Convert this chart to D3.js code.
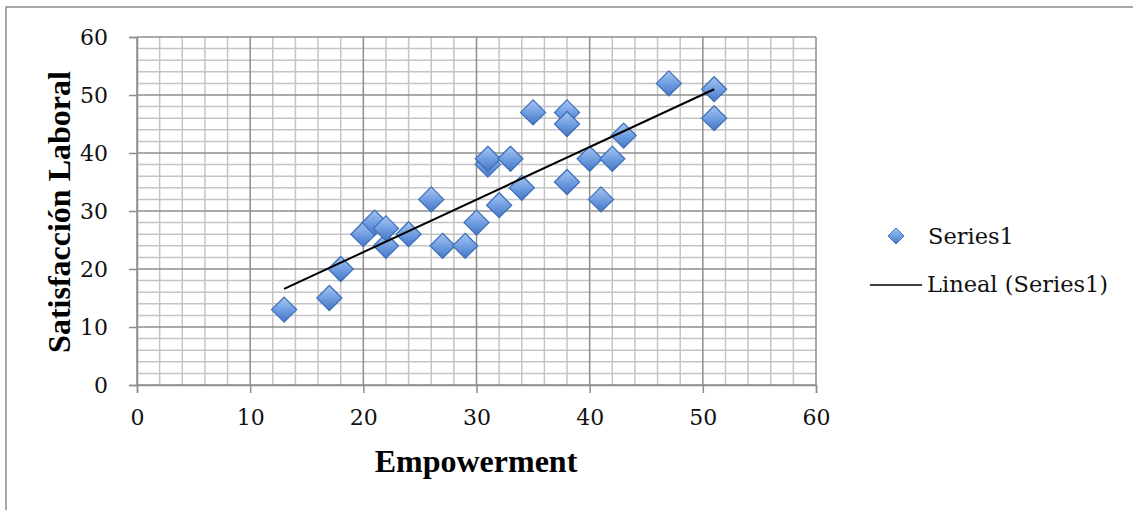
<!DOCTYPE html>
<html><head><meta charset="utf-8">
<script src="https://cdn.jsdelivr.net/npm/d3@7"></script>
<style>html,body{margin:0;padding:0;background:#fff;}svg{display:block;}</style>
</head><body>
<svg id="chart" width="1133" height="510"></svg>
<script>
const empowerment = [13,17,18,20,21,22,22,24,26,27,29,30,31,31,32,33,34,35,38,38,38,40,41,42,43,47,51,51];
const satisfaccion = [13,15,20,26,28,24,27,26,32,24,24,28,38,39,31,39,34,47,47,45,35,39,32,39,43,52,51,46];
const xTicks = [0,10,20,30,40,50,60];
const yTicks = [0,10,20,30,40,50,60];
const xTitle = "Empowerment";
const yTitle = "Satisfacción Laboral";
const legendLabels = ["Series1", "Lineal (Series1)"];

const svg = d3.select("#chart");
const x = d3.scaleLinear().domain([0,60]).range([137,816]);
const y = d3.scaleLinear().domain([0,60]).range([385,37]);

const defs = svg.append("defs");
const grad = defs.append("linearGradient").attr("id","dg").attr("x1",0).attr("y1",0).attr("x2",0).attr("y2",1);
grad.append("stop").attr("offset","0%").attr("stop-color","#a8c6f2");
grad.append("stop").attr("offset","55%").attr("stop-color","#6d9be0");
grad.append("stop").attr("offset","100%").attr("stop-color","#4676c4");

// outer frame (top and left visible)
svg.append("rect").attr("x",6).attr("y",7).attr("width",1200).attr("height",600)
  .attr("fill","none").attr("stroke","#8a8a8a").attr("stroke-width",1.5);

// minor grid
const minor = d3.range(0,61,2).filter(v => v % 10 !== 0);
const g = svg.append("g");
g.selectAll(".vx").data(minor).join("line")
  .attr("x1",d=>x(d)).attr("x2",d=>x(d)).attr("y1",y(0)).attr("y2",y(60))
  .attr("stroke","#c4c4c4").attr("stroke-width",1.5);
g.selectAll(".hy").data(minor).join("line")
  .attr("y1",d=>y(d)).attr("y2",d=>y(d)).attr("x1",x(0)).attr("x2",x(60))
  .attr("stroke","#c4c4c4").attr("stroke-width",1.5);
// major grid
g.selectAll(".mx").data(xTicks).join("line")
  .attr("x1",d=>x(d)).attr("x2",d=>x(d)).attr("y1",y(0)).attr("y2",y(60))
  .attr("stroke","#8e8e8e").attr("stroke-width",1.5);
g.selectAll(".my").data(yTicks).join("line")
  .attr("y1",d=>y(d)).attr("y2",d=>y(d)).attr("x1",x(0)).attr("x2",x(60))
  .attr("stroke","#8e8e8e").attr("stroke-width",1.5);

// axes
const xAxis = svg.append("g").attr("transform",`translate(0,${y(0)})`)
  .call(d3.axisBottom(x).tickValues(xTicks).tickSize(8).tickPadding(13));
const yAxis = svg.append("g").attr("transform",`translate(${x(0)},0)`)
  .call(d3.axisLeft(y).tickValues(yTicks).tickSize(8).tickPadding(21));
[xAxis,yAxis].forEach(a=>{
  a.select(".domain").attr("stroke","#8e8e8e").attr("stroke-width",1.5);
  a.selectAll(".tick line").attr("stroke","#8e8e8e").attr("stroke-width",1.5);
  a.selectAll("text").attr("font-family","'DejaVu Serif', serif").attr("font-size",22).attr("fill","#111");
});
xAxis.selectAll("text").attr("dy","0.85em");

// trendline (least squares)
const n = empowerment.length;
const mx = d3.mean(empowerment), my = d3.mean(satisfaccion);
let sxy=0, sxx=0;
for(let i=0;i<n;i++){ sxy+=(empowerment[i]-mx)*(satisfaccion[i]-my); sxx+=(empowerment[i]-mx)**2; }
const slope = sxy/sxx, icpt = my - slope*mx;
const [xmin,xmax] = d3.extent(empowerment);

function diamondPath(r){ return `M0,${-r}L${r},0L0,${r}L${-r},0Z`; }
svg.append("g").selectAll("path").data(empowerment.map((v,i)=>[v,satisfaccion[i]])).join("path")
  .attr("d",diamondPath(12.5))
  .attr("transform",d=>`translate(${x(d[0])},${y(d[1])})`)
  .attr("fill","url(#dg)").attr("stroke","#3f70ba").attr("stroke-width",1.3);

svg.append("line").attr("x1",x(xmin)).attr("y1",y(slope*xmin+icpt))
  .attr("x2",x(xmax)).attr("y2",y(slope*xmax+icpt))
  .attr("stroke","#000").attr("stroke-width",2);

// axis titles
svg.append("text").attr("x",476).attr("y",472).attr("text-anchor","middle")
  .attr("font-family","'Liberation Serif', serif").attr("font-weight","bold").attr("font-size",32)
  .text(xTitle);
svg.append("text").attr("transform","translate(70,212) rotate(-90)").attr("text-anchor","middle")
  .attr("font-family","'Liberation Serif', serif").attr("font-weight","bold").attr("font-size",32)
  .text(yTitle);

// legend
const lg = svg.append("g");
lg.append("path").attr("d",diamondPath(8)).attr("transform","translate(896,236)")
  .attr("fill","url(#dg)").attr("stroke","#3f70ba").attr("stroke-width",1);
lg.append("text").attr("x",928).attr("y",244).text(legendLabels[0])
  .attr("font-family","'DejaVu Serif', serif").attr("font-size",22.5).attr("fill","#111");
lg.append("line").attr("x1",870).attr("x2",922).attr("y1",285).attr("y2",285)
  .attr("stroke","#000").attr("stroke-width",1.5);
lg.append("text").attr("x",927).attr("y",292).text(legendLabels[1])
  .attr("font-family","'DejaVu Serif', serif").attr("font-size",22.5).attr("fill","#111");
</script>
</body></html>
